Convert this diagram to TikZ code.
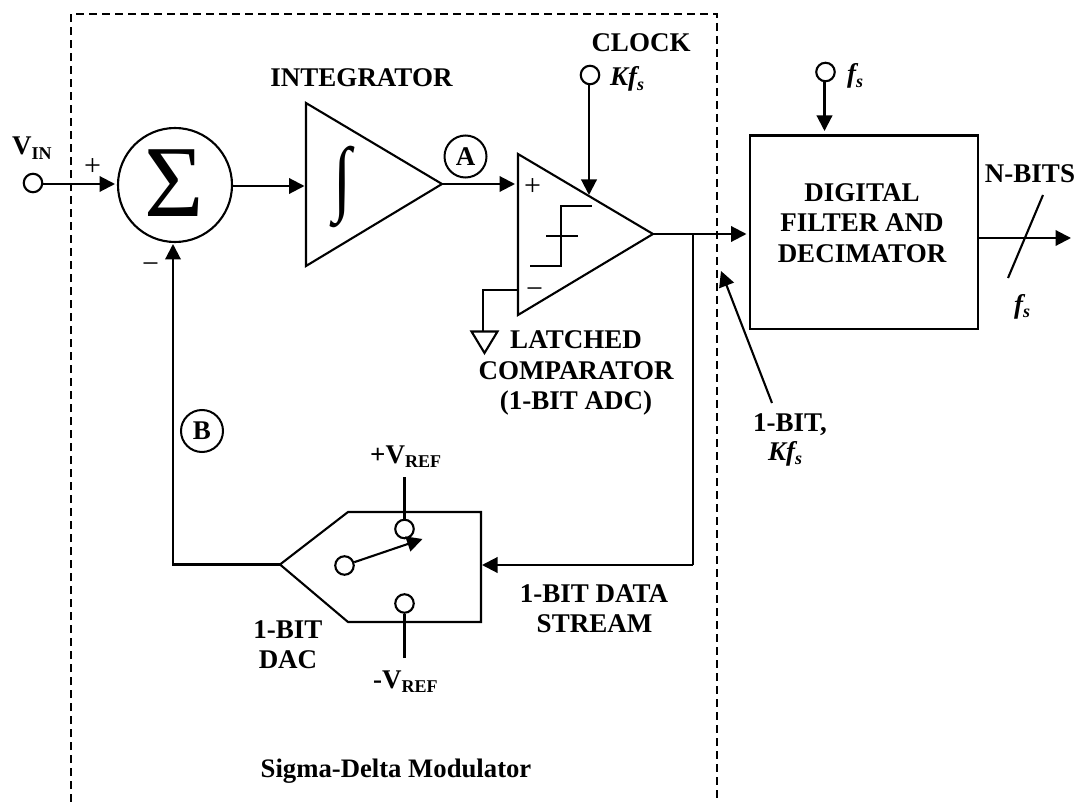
\documentclass[tikz,border=0pt]{standalone}
\usepackage{fontspec}
\setmainfont{Liberation Serif}
\usetikzlibrary{arrows.meta}
\tikzset{
  wire/.style={line width=2.1pt,line join=miter},
  arr/.style={wire,-{Triangle[length=15.5pt,width=15.5pt]}},
  term/.style={circle,draw,line width=2.1pt,minimum size=18.5pt,inner sep=0pt,fill=white},
  tag/.style={circle,draw,line width=2pt,minimum size=42pt,inner sep=0pt,font=\fontsize{27}{27}\selectfont\bfseries},
  lab/.style={font=\fontsize{27}{30.5}\selectfont\bfseries,align=center,inner sep=0pt},
  ilab/.style={font=\fontsize{27}{30}\selectfont\bfseries\itshape,inner sep=0pt},
  sgn/.style={font=\fontsize{30}{30}\selectfont,inner sep=0pt},
  boundary/.style={line width=2pt,dash pattern=on 8pt off 5pt}
}
\newcommand{\subsz}[1]{\raisebox{-4.5pt}{\fontsize{18}{18}\selectfont #1}}
\begin{document}
\begin{tikzpicture}[x=1pt,y=-1pt]
\useasboundingbox (0,0) rectangle (1076,802);
% boundary
\coordinate (bl) at (71,802); \coordinate (tl) at (71,14);
\coordinate (tr) at (717,14); \coordinate (br) at (717,802);
\draw[boundary] (bl) -- (tl) -- (tr) -- (br);
% sum
\node[circle,draw,line width=2.1pt,minimum size=114pt,inner sep=0pt] (sum) at (175,185) {};
\node[font=\fontsize{102}{102}\selectfont,inner sep=0pt] (sigma) at (174,183) {Σ};
% input
\node[term] (vin) at (33,183) {};
\coordinate (vint) at (115,184);
\draw[arr] (vin.east |- vint) -- (vint);
\node[lab,anchor=base west] (vinl) at (12,155) {V\subsz{IN}};
\node[sgn] (plus1) at (92.5,167) {+};
\node[sgn] (minus1) at (150.5,268) {−};
% integrator
\coordinate (i1) at (306,103); \coordinate (i2) at (442,184); \coordinate (i3) at (306,266);
\draw[wire] (i1) -- (i2) -- (i3) -- cycle;
\coordinate (iin) at (304.5,186);
\draw[arr] (sum.east |- iin) -- (iin);
\node[font=\fontsize{66}{66}\selectfont,inner sep=0pt,yscale=1.26] (intg) at (343,187) {∫};
\node[lab,anchor=base] (intl) at (361.5,87) {INTEGRATOR};
\node[tag] (A) at (465.5,156.5) {A};
% comparator
\coordinate (c1) at (518,154); \coordinate (c2) at (653,234); \coordinate (c3) at (518,315);
\draw[wire] (c1) -- (c2) -- (c3) -- cycle;
\coordinate (cin) at (515,184);
\draw[arr] (i2) -- (cin);
\node[sgn] (plus2) at (532.5,187) {+};
\node[sgn] (minus2) at (534.5,293) {−};
% step
\coordinate (s1) at (530,266); \coordinate (s2) at (561,266); \coordinate (s3) at (561,206); \coordinate (s4) at (592,206);
\coordinate (x1) at (546,236); \coordinate (x2) at (578,236);
\draw[wire] (s1) -- (s2) -- (s3) -- (s4);
\draw[wire] (x1) -- (x2);
% clock
\node[term] (clk) at (590,75) {};
\coordinate (clkin) at (589,195);
\draw[arr] (clk.south -| clkin) -- (clkin);
\node[lab,anchor=base] (clkl) at (641,52) {CLOCK};
\node[ilab,anchor=base west] (kfs) at (610,86) {Kf\subsz{s}};
% ground
\coordinate (g1) at (518,290); \coordinate (g2) at (483,290); \coordinate (g3) at (483,331);
\draw[wire] (g1) -- (g2) -- (g3);
\coordinate (ga) at (471.5,331.5); \coordinate (gb) at (497.5,331.5); \coordinate (gc) at (484.5,353);
\draw[wire] (ga) -- (gb) -- (gc) -- cycle;
\node[lab] (latch) at (576,373) {LATCHED\\COMPARATOR\\(1-BIT ADC)};
% filter
\node[draw,line width=2.1pt,minimum width=227.5pt,minimum height=193.5pt,inner sep=0pt,anchor=north west] (filt) at (749,134.5) {};
\node[lab] (filtl) at (862,223) {DIGITAL\\FILTER AND\\DECIMATOR};
\coordinate (out) at (746.5,234);
\draw[arr] (c2) -- (out);
\coordinate (fbt) at (693,234); \coordinate (fbb) at (693,565);
% f_s
\node[term] (fs) at (825.5,72) {};
\coordinate (fsin) at (824.5,131);
\draw[arr] (fs.south -| fsin) -- (fsin);
\node[ilab,anchor=base west] (fsl) at (847,83) {f\subsz{s}};
% output
\coordinate (outr) at (1071,238);
\draw[arr] (filt.east |- outr) -- (outr);
\coordinate (sl1) at (1043,195); \coordinate (sl2) at (1008,278);
\draw[wire] (sl1) -- (sl2);
\node[lab,anchor=base] (nb) at (1030,183) {N-BITS};
\node[ilab,anchor=base west] (fs2) at (1014,313) {f\subsz{s}};
% pointer
\coordinate (p1) at (772,403); \coordinate (p2) at (721,271);
\draw[arr] (p1) -- (p2);
\node[lab,anchor=base] (bit1) at (790,431) {1-BIT,};
\node[ilab,anchor=base] (bit2) at (785,460) {Kf\subsz{s}};
% DAC
\coordinate (d1) at (280,564.5); \coordinate (d2) at (348,512); \coordinate (d3) at (481,512); \coordinate (d4) at (481,622); \coordinate (d5) at (348,622);
\draw[wire] (d1) -- (d2) -- (d3) -- (d4) -- (d5) -- cycle;
\coordinate (dr) at (482,565);
\draw[wire] (fbt) -- (fbb);
\draw[arr] (fbb) -- (dr);
\node[term] (vp) at (404.5,529) {};
\node[term] (vm) at (404.5,603.5) {};
\node[term] (vc) at (344.5,565.5) {};
\coordinate (sw) at (422.5,539);
\draw[arr] (vc) -- (sw);
\coordinate (vpt) at (404.5,477); \coordinate (vmb) at (404.5,658);
\draw[wire] (vpt) -- (vp.north);
\draw[wire] (vmb) -- (vm.south);
\node[lab,anchor=base west] (vpl) at (370,463) {+V\subsz{REF}};
\node[lab,anchor=base west] (vml) at (373,688) {-V\subsz{REF}};
\node[lab,anchor=base] (dacl1) at (288,638) {1-BIT};
\node[lab,anchor=base] (dacl2) at (288,668) {DAC};
\node[lab,anchor=base] (strl1) at (594,602) {1-BIT DATA};
\node[lab,anchor=base] (strl2) at (594.5,632) {STREAM};
\node[tag] (B) at (202,431) {B};
% feedback
\coordinate (fl) at (173,564.5); \coordinate (fu) at (173,244);
\draw[arr] (d1) -- (fl) -- (fu);
\node[lab,anchor=base,font=\fontsize{26.7}{30}\selectfont\bfseries] (sdm) at (396,777) {Sigma-Delta Modulator};
\end{tikzpicture}
\end{document}
